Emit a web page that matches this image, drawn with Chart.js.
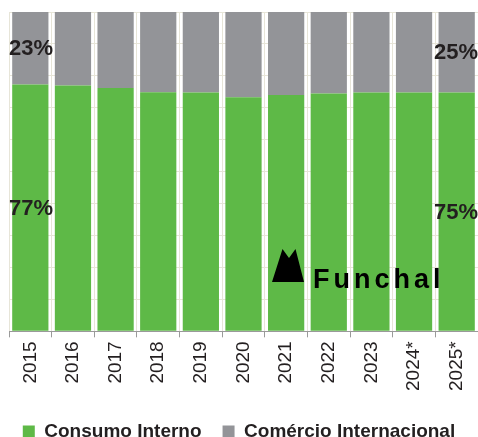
<!DOCTYPE html>
<html>
<head>
<meta charset="utf-8">
<script src="https://cdn.jsdelivr.net/npm/chart.js@4.4.1/dist/chart.umd.min.js"></script>
<style>
    html, body { margin: 0; padding: 0; background: #fff; overflow: hidden; }
    #wrap { position: relative; width: 478px; height: 451px; }
</style>
</head>
<body>
<div id="wrap"><canvas id="chart"></canvas></div>
<script>
// data (shares in %)
var years = ['2015', '2016', '2017', '2018', '2019', '2020', '2021', '2022', '2023', '2024*', '2025*'];
var consumoInterno = [77.3, 77.0, 76.2, 74.9, 74.8, 73.3, 74.0, 74.5, 74.8, 74.8, 74.8];
var comercioInternacional = [22.7, 23.0, 23.8, 25.1, 25.2, 26.7, 26.0, 25.5, 25.2, 25.2, 25.2];
var yTicks = [0, 10, 20, 30, 40, 50, 60, 70, 80, 90, 100];

var GREEN = '#5eb947';
var GREY = '#939498';
var GRID = '#e7e5d8';
var INK = '#231f20';

// percentage labels on the first and last bar
var endLabels = {
    id: 'endLabels',
    afterDatasetsDraw: function (chart) {
        var ctx = chart.ctx;
        ctx.save();
        ctx.font = 'bold 22px "Liberation Sans", Arial, sans-serif';
        ctx.fillStyle = INK;
        ctx.textAlign = 'center';
        ctx.textBaseline = 'middle';
        chart.data.datasets.forEach(function (ds, d) {
            var meta = chart.getDatasetMeta(d);
            [0, ds.data.length - 1].forEach(function (i) {
                var bar = meta.data[i];
                var x = bar.x;
                if (i === 0) x = Math.max(x, chart.chartArea.left + 22);
                if (i === ds.data.length - 1) x = Math.min(x, chart.width - 22);
                ctx.fillText(Math.round(ds.data[i]) + '%', x, (bar.y + bar.base) / 2 + 1);
            });
        });
        ctx.restore();
    }
};

// Funchal watermark
var logo = {
    id: 'logo',
    afterDatasetsDraw: function (chart) {
        var ctx = chart.ctx;
        var a = chart.chartArea;
        var ox = a.left + 263, oy = a.top + 237;
        ctx.save();
        ctx.fillStyle = '#000';
        ctx.beginPath();
        ctx.moveTo(ox, oy + 33);
        ctx.lineTo(ox + 10.5, oy);
        ctx.lineTo(ox + 17, oy + 9);
        ctx.lineTo(ox + 23.5, oy);
        ctx.lineTo(ox + 32, oy + 33);
        ctx.closePath();
        ctx.fill();
        ctx.font = 'bold 27px "Liberation Sans", Arial, sans-serif';
        ctx.letterSpacing = '4px';
        ctx.textAlign = 'left';
        ctx.textBaseline = 'alphabetic';
        ctx.fillText('Funchal', ox + 41, oy + 39);
        ctx.restore();
    }
};

var ctx = document.getElementById('chart').getContext('2d');
var chart = new Chart(ctx, {
    type: 'bar',
    data: {
        labels: years,
        datasets: [
            {
                label: 'Consumo Interno',
                data: consumoInterno,
                backgroundColor: GREEN,
                borderWidth: 0,
                barPercentage: 0.85,
                categoryPercentage: 1
            },
            {
                label: 'Comércio Internacional',
                data: comercioInternacional,
                backgroundColor: GREY,
                borderWidth: 0,
                barPercentage: 0.85,
                categoryPercentage: 1
            }
        ]
    },
    options: {
        responsive: true,
        maintainAspectRatio: false,
        animation: false,
        layout: { padding: { left: 0, top: 12, right: 0, bottom: 0 } },
        plugins: {
            tooltip: { enabled: false },
            legend: {
                position: 'bottom',
                labels: {
                    boxWidth: 12,
                    boxHeight: 12,
                    padding: 21,
                    color: INK,
                    font: { family: '"Liberation Sans", Arial, sans-serif', size: 19, weight: 'bold' }
                }
            }
        },
        scales: {
            x: {
                stacked: true,
                afterFit: function (axis) {
                    axis.paddingLeft = 0;
                    axis.paddingRight = 0;
                    axis.height += 6;
                },
                grid: { color: GRID, offset: true, tickLength: 6, tickColor: '#9a9a9a' },
                border: { color: '#9a9a9a' },
                ticks: {
                    autoSkip: false,
                    minRotation: 90,
                    maxRotation: 90,
                    padding: 4,
                    color: INK,
                    font: { family: '"Liberation Sans", Arial, sans-serif', size: 19 }
                }
            },
            y: {
                stacked: true,
                min: yTicks[0],
                max: yTicks[yTicks.length - 1],
                afterBuildTicks: function (axis) {
                    axis.ticks = yTicks.map(function (v) { return { value: v }; });
                },
                afterFit: function (axis) { axis.width = 9; },
                ticks: { display: false },
                grid: { color: GRID, drawTicks: false },
                border: { display: false }
            }
        }
    },
    plugins: [endLabels, logo]
});
</script>
</body>
</html>
